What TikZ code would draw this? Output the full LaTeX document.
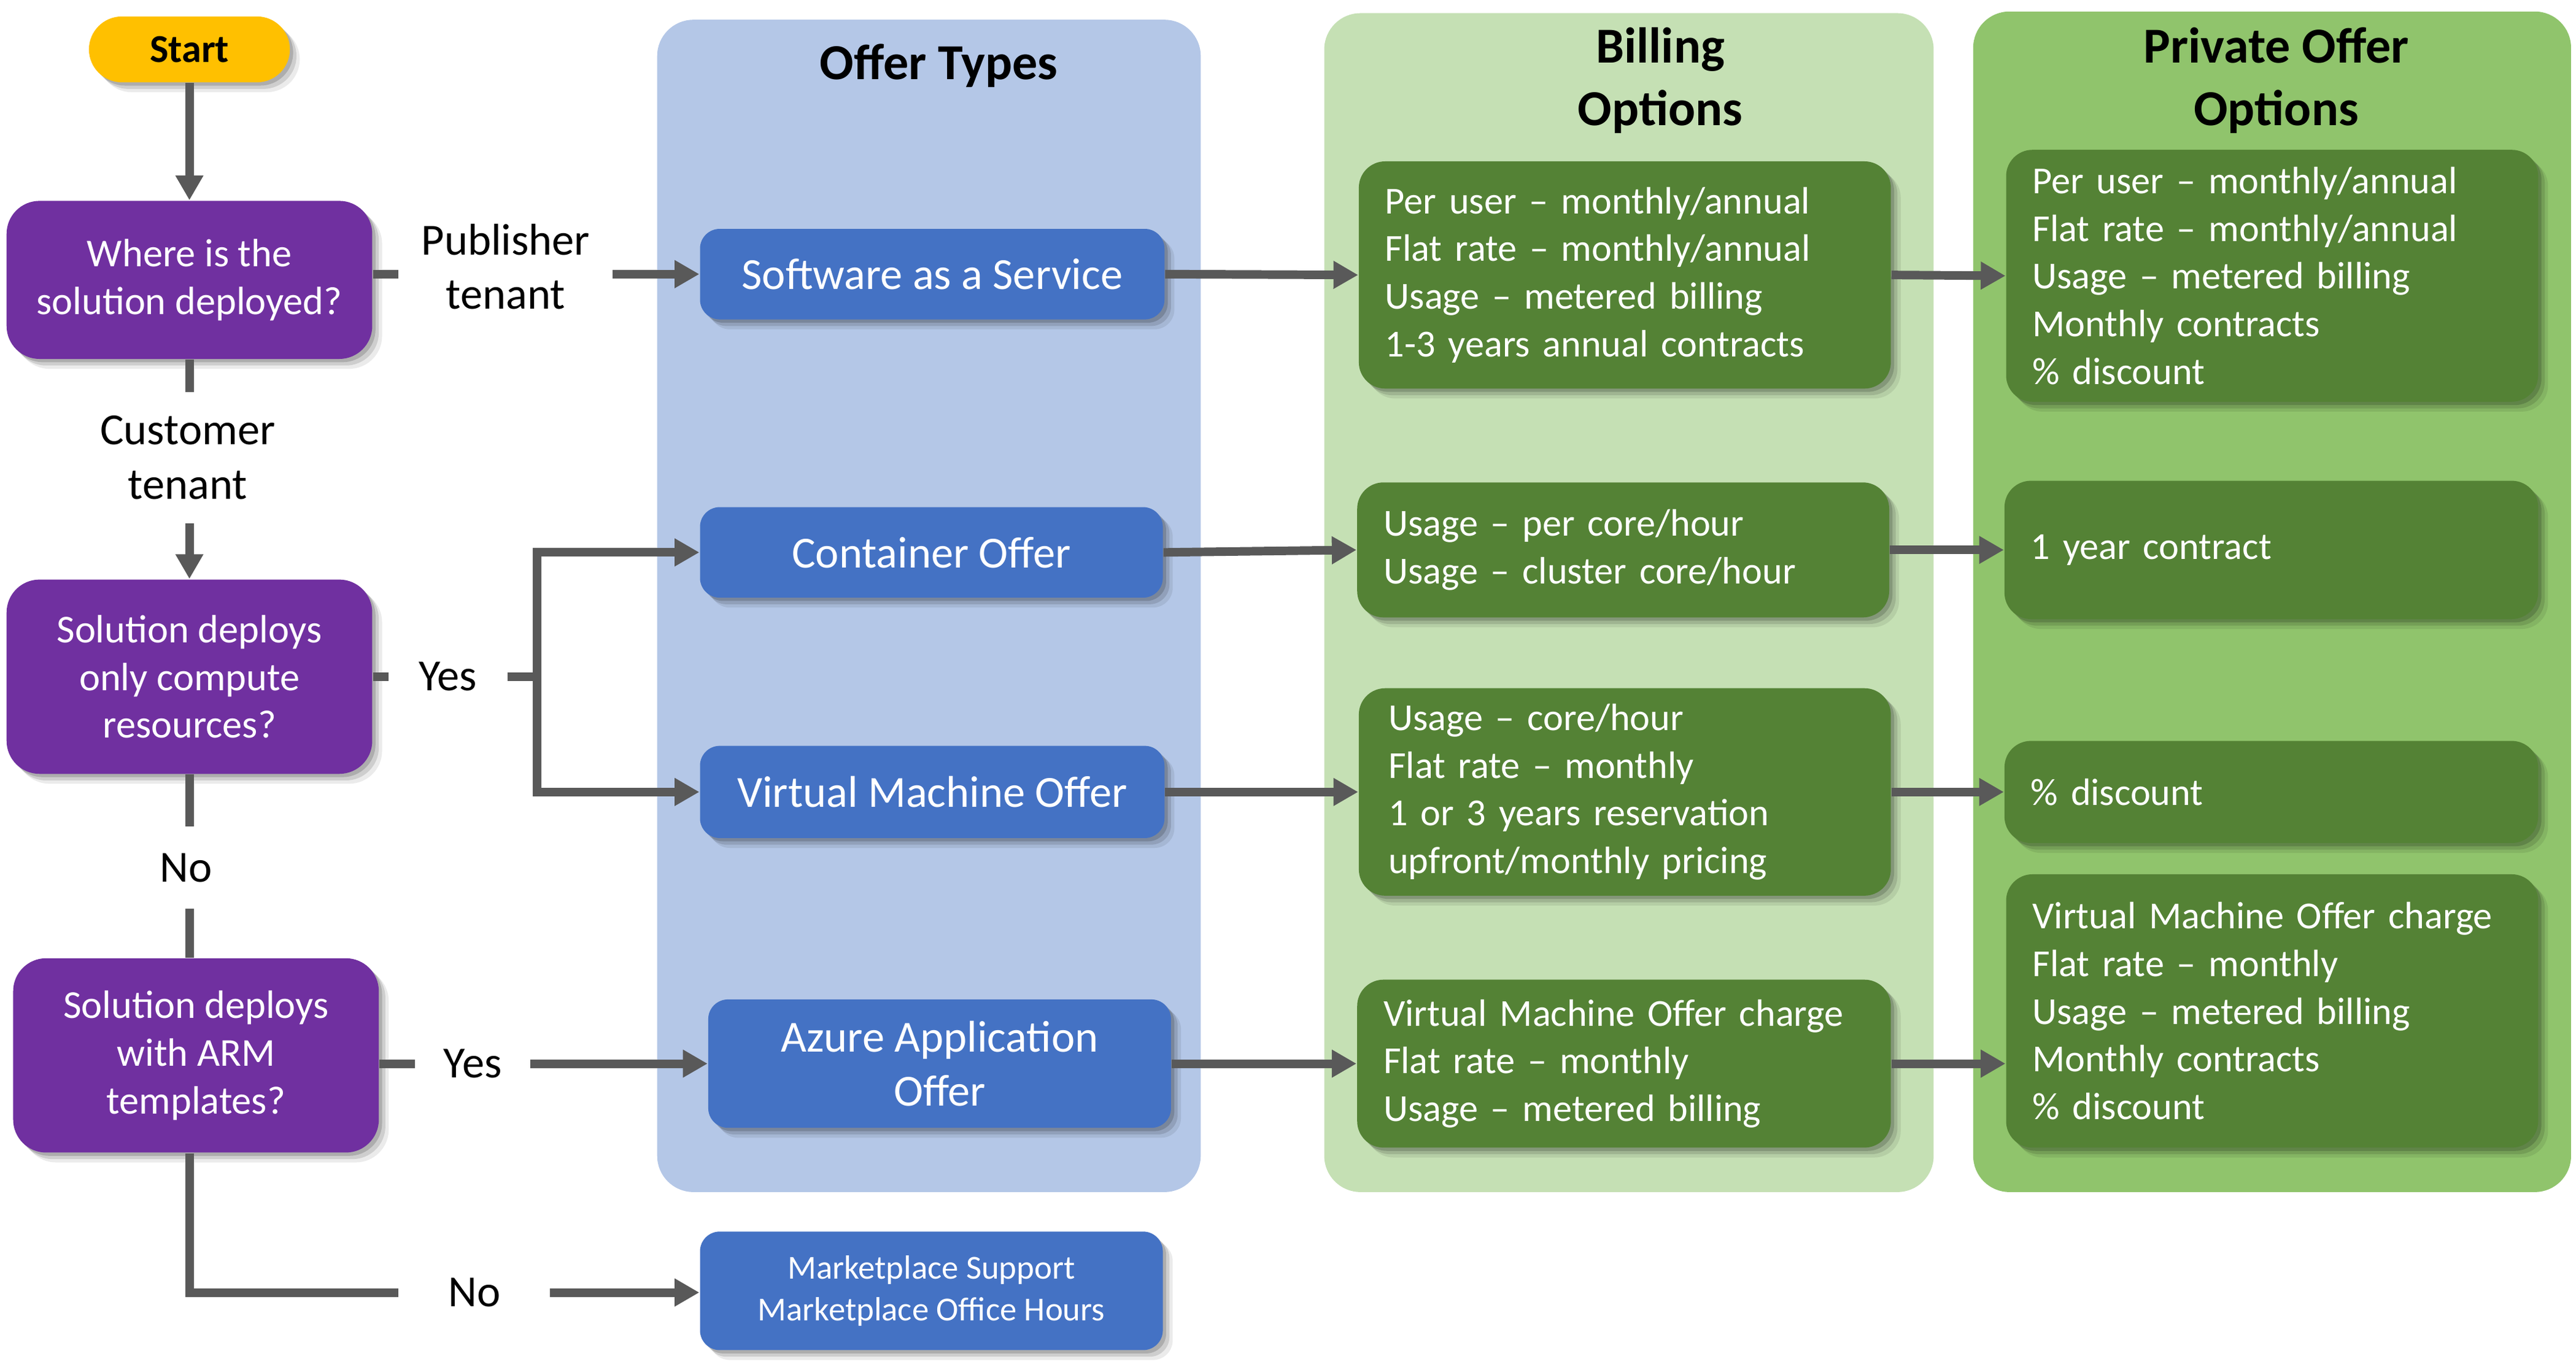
\documentclass[tikz,border=0pt]{standalone}
\usepackage{fontspec}
\setmainfont{Carlito}
\usetikzlibrary{arrows.meta,shadows}
\definecolor{cgray}{HTML}{595959}
\definecolor{syellow}{HTML}{FFC000}
\definecolor{qpurple}{HTML}{7030A0}
\definecolor{oblue}{HTML}{4472C4}
\definecolor{opanel}{HTML}{B4C7E7}
\definecolor{bpanel}{HTML}{C5E0B4}
\definecolor{ppanel}{HTML}{90C46C}
\definecolor{dgreen}{HTML}{548235}
\newcommand\fntA{\fontsize{12}{14.5}\selectfont}
\newcommand\fntG{\fontsize{11.6}{14.5}\selectfont}
\newcommand\fntB{\fontsize{13.5}{16.5}\selectfont}
\newcommand\fntC{\fontsize{15.3}{19}\selectfont\bfseries}
\newcommand\fntD{\fontsize{10.2}{12.5}\selectfont}
\tikzset{
  ln/.style={draw=cgray, line width=2.6pt},
  arr/.style={ln, -{Triangle[length=7.5pt,width=8pt]}},
  shad/.style={
    drop shadow={shadow xshift=1pt,shadow yshift=-1pt,opacity=.16,fill=black},
    drop shadow={shadow xshift=2pt,shadow yshift=-2pt,opacity=.12,fill=black},
    drop shadow={shadow xshift=3pt,shadow yshift=-3pt,opacity=.08,fill=black}},
  startbox/.style={rounded corners=10pt, fill=syellow, text=black, font=\fntA\bfseries, inner sep=0pt, shad},
  qbox/.style={rounded corners=10pt, fill=qpurple, text=white, font=\fntA, align=center, inner sep=0pt, shad},
  obox/.style={rounded corners=6pt, fill=oblue, text=white, font=\fntB, align=center, inner sep=0pt, shad},
  gbox/.style={rounded corners=8pt, fill=dgreen, text=white, font=\fntG, align=left, inner xsep=8pt, inner ysep=0pt, shad},
  ttl/.style={font=\fntC, align=center, inner sep=0pt},
  lbl/.style={font=\fntB, align=center, inner sep=0pt},
}
\begin{document}
\begin{tikzpicture}[x=0.5pt,y=-0.5pt]
\useasboundingbox (0,0) rectangle (1564,830);
% panels
\fill[opanel, rounded corners=11pt] (399,12) rectangle (729,724);
\fill[bpanel, rounded corners=11pt] (804,8) rectangle (1174,724);
\fill[ppanel, rounded corners=11pt] (1198,7) rectangle (1561,724);
\node[ttl] (t1) at (570,40) {Offer Types};
\node[ttl] (t2) at (1008,49) {Billing\\Options};
\node[ttl] (t3) at (1382,49) {Private Offer\\Options};
% decision column
\node[startbox, minimum width=61pt, minimum height=20pt] (start) at (115,30) {Start};
\node[qbox, minimum width=111pt, minimum height=48pt] (q1) at (115,170) {Where is the\\solution deployed?};
\node[qbox, minimum width=111pt, minimum height=59pt] (q2) at (115,411) {Solution deploys\\only compute\\resources?};
\node[qbox, minimum width=111pt, minimum height=59pt] (q3) at (119,641) {Solution deploys\\with ARM\\templates?};
% offer types
\node[obox, minimum width=141pt, minimum height=27.5pt] (saas) at (566,166.5) {Software as a Service};
\node[obox, minimum width=140.5pt, minimum height=27.5pt] (cont) at (565.5,335.5) {Container Offer};
\node[obox, minimum width=141pt, minimum height=28pt] (vm) at (566,481) {Virtual Machine Offer};
\node[obox, minimum width=140.5pt, minimum height=39pt] (azure) at (570.5,646) {Azure Application\\Offer};
\node[obox, font=\fntD, minimum width=140.5pt, minimum height=36pt] (mkt) at (565.5,784) {Marketplace Support\\Marketplace Office Hours};
% billing options
\node[gbox, text width=145.5pt, minimum height=69pt] (b1) at (986.5,167) {Per user -- monthly/annual\\Flat rate -- monthly/annual\\Usage -- metered billing\\1-3 years annual contracts};
\node[gbox, text width=145.5pt, minimum height=41pt] (b2) at (985.5,334) {Usage -- per core/hour\\Usage -- cluster core/hour};
\node[gbox, inner xsep=9pt, text width=143.5pt, minimum height=63pt] (b3) at (986.5,481) {Usage -- core/hour\\Flat rate -- monthly\\1 or 3 years reservation\\upfront/monthly pricing};
\node[gbox, text width=146pt, minimum height=51pt] (b4) at (986,646) {Virtual Machine Offer charge\\Flat rate -- monthly\\Usage -- metered billing};
% private offer options
\node[gbox, text width=145.5pt, minimum height=76.5pt] (p1) at (1379.5,167.5) {Per user -- monthly/annual\\Flat rate -- monthly/annual\\Usage -- metered billing\\Monthly contracts\\\% discount};
\node[gbox, text width=146pt, minimum height=42pt] (p2) at (1379,334) {1 year contract};
\node[gbox, text width=146pt, minimum height=31pt] (p3) at (1379,481) {\% discount};
\node[gbox, text width=145.5pt, minimum height=83pt] (p4) at (1379.5,614) {Virtual Machine Offer charge\\Flat rate -- monthly\\Usage -- metered billing\\Monthly contracts\\\% discount};
% labels
\node[lbl] (pub) at (307,162) {Publisher\\tenant};
\node[lbl] (cust) at (114,278) {Customer\\tenant};
\node[lbl] (yes1) at (272,411) {Yes};
\node[lbl] (no1) at (113,527) {No};
\node[lbl] (yes2) at (287,646) {Yes};
\node[lbl] (no2) at (288,785) {No};
% gap coordinates
\coordinate (g1a) at (242,166.5);
\coordinate (g1b) at (372,166.5);
\coordinate (g2a) at (115,238);
\coordinate (g2b) at (115,318);
\coordinate (g3a) at (236,411);
\coordinate (g3b) at (308,411);
\coordinate (jn) at (326,411);
\coordinate (g4a) at (115,502);
\coordinate (g4b) at (115,552);
\coordinate (g5a) at (252,646);
\coordinate (g5b) at (322,646);
\coordinate (g6c) at (115,785);
\coordinate (g6a) at (242,785);
\coordinate (g6b) at (334,785);
% connectors
\draw[arr] (start.south) -- (q1.north);
\draw[ln] (q1.east |- g1a) -- (g1a);
\draw[arr] (g1b) -- (saas.west);
\draw[ln] (q1.south) -- (g2a);
\draw[arr] (g2b) -- (q2.north);
\draw[ln] (q2.east) -- (g3a);
\draw[ln] (g3b) -- (jn);
\draw[arr] (jn) |- (cont.west);
\draw[arr] (jn) |- (vm.west);
\draw[ln] (q2.south) -- (g4a);
\draw[ln] (g4b) -- (g4b |- q3.north);
\draw[ln] (q3.east |- g5a) -- (g5a);
\draw[arr] (g5b) -- (azure.west |- g5b);
\draw[ln] (q2.south |- q3.south) -- (g6c) -- (g6a);
\draw[arr] (g6b) -- (mkt.west |- g6b);
\draw[arr] (saas.east) -- (b1.west);
\draw[arr] (cont.east) -- (b2.west);
\draw[arr] (vm.east) -- (b3.west);
\draw[arr] (azure.east) -- (azure.east -| b4.west);
\draw[arr] (b1.east) -- (p1.west);
\draw[arr] (b2.east) -- (p2.west);
\draw[arr] (b3.east) -- (p3.west);
\draw[arr] (b4.east) -- (b4.east -| p4.west);
\end{tikzpicture}
\end{document}
